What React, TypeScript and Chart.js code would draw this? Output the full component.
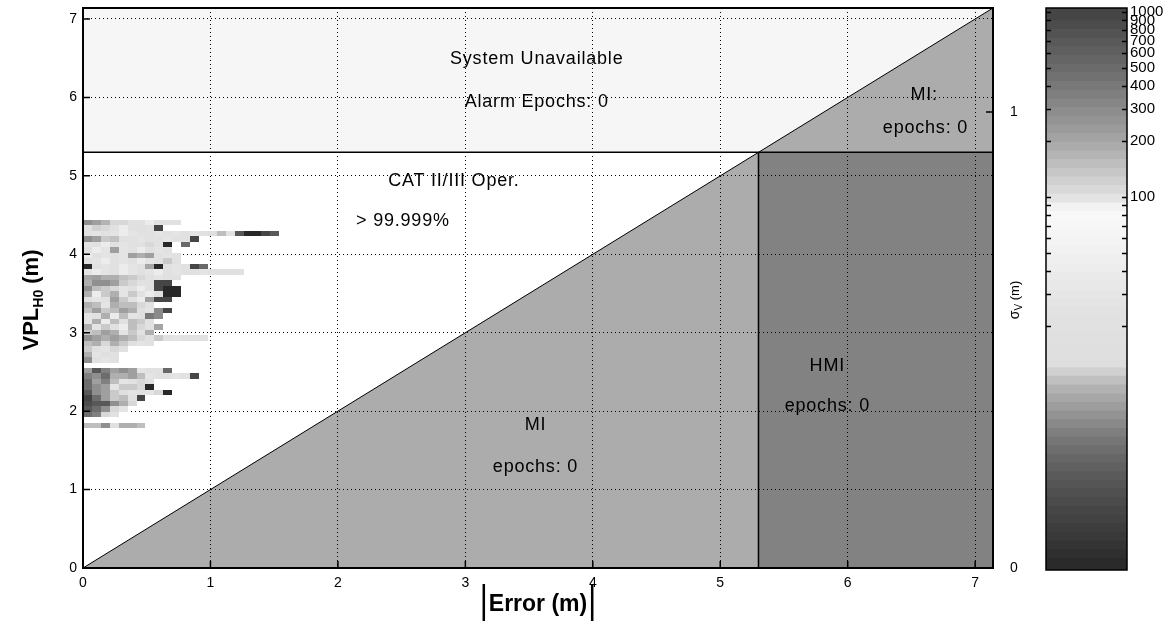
import React, { useEffect, useRef } from 'react';
import { Chart, registerables } from 'chart.js';

Chart.register(...registerables);

// ---------- axis / region values ----------
const AXIS_MAX = 7.14;
const ALERT_LIMIT = 5.3;
const SIGMA_MAX = 1.228;
const xTicks = [0, 1, 2, 3, 4, 5, 6, 7];
const yTicks = [0, 1, 2, 3, 4, 5, 6, 7];
const sigmaTicks = [0, 1];

// ---------- colour bar ----------
const CB_MIN = 0.963;
const CB_MAX = 1051;
const colorbarTicks = [20, 30, 40, 50, 60, 70, 80, 90, 100, 200, 300, 400, 500, 600, 700, 800, 900, 1000];
const colorbarLabels = [100, 200, 300, 400, 500, 600, 700, 800, 900, 1000];
const colorbarBands = 64;
// colormap stops: [count, grey level]
const grayStops: [number, number][] = [
  [1, 40], [1.5, 58], [2.2, 74], [3, 88], [4, 104], [5.4, 128], [6.8, 150], [8, 165],
  [9.5, 182], [11, 204], [12.5, 222], [25, 226], [40, 236], [55, 242], [70, 247],
  [85, 248], [92, 236], [100, 224], [140, 196], [200, 166], [300, 138], [400, 120],
  [500, 106], [700, 88], [1000, 66],
];

// ---------- 2-D histogram (epoch counts) ----------
const heatBinX = 0.07;
const heatBinY = 0.07;
const heatTopY = 4.44;
// one row per VPL bin, from the top (4.44 m) downwards; columns from |error| = 0
const heatCounts: number[][] = [
  [280, 220, 170, 110, 110, 22, 22, 40, 22, 25, 22],
  [22, 120, 110, 22, 40, 22, 18, 22, 2],
  [22, 28, 22, 28, 40, 28, 22, 22, 28, 22, 28, 22, 28, 22, 13, 10, 25, 3, 1, 1, 2, 3],
  [280, 220, 130, 145, 18, 22, 28, 22, 22, 28, 22, 22, 2],
  [28, 22, 40, 22, 28, 22, 22, 110, 22, 1, 0, 4],
  [22, 40, 28, 220, 28, 22, 40, 22, 28, 22],
  [40, 22, 28, 22, 28, 220, 180, 220, 22, 28, 22],
  [22, 28, 40, 22, 28, 22, 40, 28, 22, 130, 22],
  [1, 22, 28, 22, 40, 28, 22, 200, 1, 22, 28, 22, 2, 4],
  [28, 40, 28, 22, 40, 28, 22, 28, 40, 22, 28, 22, 22, 28, 22, 22, 20, 22],
  [200, 220, 180, 180, 145, 130, 110, 22, 28, 22, 22],
  [180, 280, 280, 220, 130, 110, 22, 22, 2, 2],
  [280, 150, 130, 110, 28, 22, 40, 22, 2, 1, 1],
  [180, 40, 130, 180, 28, 130, 22, 40, 22, 1, 1],
  [22, 28, 22, 220, 130, 22, 40, 220, 2, 2],
  [180, 150, 28, 180, 150, 150, 110, 22],
  [145, 220, 130, 150, 220, 180, 18, 28, 6, 2],
  [28, 22, 180, 40, 150, 28, 18, 5, 6],
  [28, 180, 40, 150, 18, 150, 130, 22],
  [180, 28, 130, 18, 40, 150, 110, 22, 8],
  [130, 150, 220, 180, 28, 130, 22, 180],
  [280, 220, 180, 220, 180, 150, 110, 22, 130, 22, 28, 22, 22, 20],
  [150, 180, 110, 180, 130, 18, 28, 22],
  [130, 18, 28, 110, 22],
  [180, 28, 18, 22],
  [280, 22, 28, 22],
  [],
  [220, 700, 350, 220, 280, 220, 28, 22, 22, 4],
  [350, 280, 480, 180, 180, 220, 150, 28, 22, 22, 28, 22, 2],
  [480, 220, 350, 150, 28, 22, 110, 22],
  [480, 280, 220, 28, 130, 130, 110, 1],
  [700, 280, 220, 130, 18, 28, 22, 28, 110, 1],
  [1000, 480, 220, 130, 150, 22, 2],
  [850, 700, 700, 280, 180, 110],
  [700, 480, 280, 110, 28],
  [480, 350, 110, 22],
  [],
  [150, 150, 280, 22, 180, 180, 150],
];

// ---------- region texts ----------
const regionTexts = [
  { text: 'System Unavailable', x: 3.56, y: 6.49 },
  { text: 'Alarm Epochs: 0', x: 3.56, y: 5.94 },
  { text: 'CAT II/III Oper.', x: 2.91, y: 4.93 },
  { text: '> 99.999%', x: 2.51, y: 4.42 },
  { text: 'MI:', x: 6.6, y: 6.03 },
  { text: 'epochs: 0', x: 6.61, y: 5.61 },
  { text: 'HMI', x: 5.84, y: 2.58 },
  { text: 'epochs: 0', x: 5.84, y: 2.07 },
  { text: 'MI', x: 3.55, y: 1.82 },
  { text: 'epochs: 0', x: 3.55, y: 1.29 },
];

const FONT = 'Liberation Sans, Arial, sans-serif';

function countToGray(c: number): string {
  const l = Math.log10(Math.max(c, grayStops[0][0]));
  let g = grayStops[grayStops.length - 1][1];
  for (let i = 0; i < grayStops.length - 1; i++) {
    const l0 = Math.log10(grayStops[i][0]);
    const l1 = Math.log10(grayStops[i + 1][0]);
    if (l <= l1) {
      const t = Math.max(0, (l - l0) / (l1 - l0));
      g = grayStops[i][1] + (grayStops[i + 1][1] - grayStops[i][1]) * t;
      break;
    }
  }
  const v = Math.round(g);
  return `rgb(${v},${v},${v})`;
}

function drawParts(ctx: CanvasRenderingContext2D, parts: { t: string; font: string; dy: number }[]) {
  let total = 0;
  const widths = parts.map((p) => {
    ctx.font = p.font;
    const w = ctx.measureText(p.t).width;
    total += w;
    return w;
  });
  let x = -total / 2;
  parts.forEach((p, i) => {
    ctx.font = p.font;
    ctx.fillText(p.t, x, p.dy);
    x += widths[i];
  });
}

const noPad = (s: any) => {
  s.paddingTop = 0;
  s.paddingBottom = 0;
  s.paddingLeft = 0;
  s.paddingRight = 0;
};

const regionsPlugin = {
  id: 'regions',
  beforeDraw(chart: any) {
    const { ctx, scales } = chart;
    const X = (v: number) => scales.x.getPixelForValue(v);
    const Y = (v: number) => scales.y.getPixelForValue(v);
    const poly = (pts: number[][], color: string) => {
      ctx.beginPath();
      pts.forEach((p, i) => (i ? ctx.lineTo(X(p[0]), Y(p[1])) : ctx.moveTo(X(p[0]), Y(p[1]))));
      ctx.closePath();
      ctx.fillStyle = color;
      ctx.fill();
    };
    ctx.save();
    poly([[0, ALERT_LIMIT], [0, AXIS_MAX], [AXIS_MAX, AXIS_MAX], [ALERT_LIMIT, ALERT_LIMIT]], '#f6f6f6');
    poly([[0, 0], [ALERT_LIMIT, 0], [ALERT_LIMIT, ALERT_LIMIT]], '#acacac');
    poly([[ALERT_LIMIT, ALERT_LIMIT], [AXIS_MAX, AXIS_MAX], [AXIS_MAX, ALERT_LIMIT]], '#acacac');
    poly([[ALERT_LIMIT, 0], [AXIS_MAX, 0], [AXIS_MAX, ALERT_LIMIT], [ALERT_LIMIT, ALERT_LIMIT]], '#828282');
    ctx.restore();
  },
};

const heatPlugin = {
  id: 'heat',
  beforeDatasetsDraw(chart: any) {
    const { ctx, scales, chartArea } = chart;
    ctx.save();
    ctx.beginPath();
    ctx.rect(chartArea.left, chartArea.top, chartArea.right - chartArea.left, chartArea.bottom - chartArea.top);
    ctx.clip();
    heatCounts.forEach((row, k) => {
      const yHi = heatTopY - k * heatBinY;
      const yLo = yHi - heatBinY;
      row.forEach((c, j) => {
        if (!c) return;
        const x0 = Math.round(scales.x.getPixelForValue(j * heatBinX));
        const x1 = Math.round(scales.x.getPixelForValue((j + 1) * heatBinX));
        const y0 = Math.round(scales.y.getPixelForValue(yHi));
        const y1 = Math.round(scales.y.getPixelForValue(yLo));
        ctx.fillStyle = countToGray(c);
        ctx.fillRect(x0, y0, x1 - x0, y1 - y0);
      });
    });
    ctx.restore();
  },
};

const decorPlugin = {
  id: 'decor',
  afterDraw(chart: any) {
    const { ctx, scales, chartArea: a } = chart;
    ctx.save();
    // region texts
    ctx.fillStyle = '#000';
    ctx.font = `18px ${FONT}`;
    (ctx as any).letterSpacing = '0.8px';
    ctx.textAlign = 'center';
    ctx.textBaseline = 'middle';
    regionTexts.forEach((r) => {
      ctx.fillText(r.text, scales.x.getPixelForValue(r.x), scales.y.getPixelForValue(r.y));
    });
    (ctx as any).letterSpacing = '0px';

    // frame
    ctx.strokeStyle = '#000';
    ctx.lineWidth = 2;
    ctx.strokeRect(a.left, a.top, a.right - a.left, a.bottom - a.top);

    // inward tick marks
    ctx.lineWidth = 1.5;
    ctx.beginPath();
    yTicks.forEach((v) => {
      const p = scales.y.getPixelForValue(v);
      ctx.moveTo(a.left, p);
      ctx.lineTo(a.left + 7, p);
    });
    xTicks.forEach((v) => {
      const p = scales.x.getPixelForValue(v);
      ctx.moveTo(p, a.bottom);
      ctx.lineTo(p, a.bottom - 7);
    });
    sigmaTicks.forEach((v) => {
      const p = scales.sig.getPixelForValue(v);
      ctx.moveTo(a.right, p);
      ctx.lineTo(a.right - 7, p);
    });
    ctx.stroke();

    // y title (rotated)
    ctx.textAlign = 'left';
    ctx.textBaseline = 'alphabetic';
    ctx.save();
    ctx.translate(30, 300);
    ctx.rotate(-Math.PI / 2);
    drawParts(ctx, [
      { t: 'VPL', font: `bold 22px ${FONT}`, dy: 8 },
      { t: 'H0', font: `bold 14px ${FONT}`, dy: 13 },
      { t: ' (m)', font: `bold 22px ${FONT}`, dy: 8 },
    ]);
    ctx.restore();

    // sigma title (rotated)
    ctx.save();
    ctx.translate(1014, 300);
    ctx.rotate(-Math.PI / 2);
    drawParts(ctx, [
      { t: 'σ', font: `14px ${FONT}`, dy: 5 },
      { t: 'V', font: `10px ${FONT}`, dy: 8 },
      { t: ' (m)', font: `13px ${FONT}`, dy: 5 },
    ]);
    ctx.restore();

    // x title |Error (m)|
    const cx = (a.left + a.right) / 2;
    ctx.save();
    ctx.translate(cx, 611);
    ctx.font = `bold 23px ${FONT}`;
    const w = ctx.measureText('Error (m)').width;
    drawParts(ctx, [{ t: 'Error (m)', font: `bold 23px ${FONT}`, dy: 0 }]);
    ctx.lineWidth = 2.5;
    ctx.beginPath();
    ctx.moveTo(-w / 2 - 5, -27);
    ctx.lineTo(-w / 2 - 5, 10);
    ctx.moveTo(w / 2 + 5, -27);
    ctx.lineTo(w / 2 + 5, 10);
    ctx.stroke();
    ctx.restore();

    ctx.restore();
  },
};

const colorbarPlugin = {
  id: 'cbframe',
  afterDraw(chart: any) {
    const { ctx, scales, chartArea: a } = chart;
    ctx.save();
    ctx.strokeStyle = '#000';
    ctx.lineWidth = 1.5;
    ctx.beginPath();
    colorbarTicks.forEach((v) => {
      const p = Math.round(scales.y.getPixelForValue(v)) + 0.5;
      ctx.moveTo(a.left, p);
      ctx.lineTo(a.left + 5, p);
      ctx.moveTo(a.right, p);
      ctx.lineTo(a.right - 5, p);
    });
    ctx.stroke();
    ctx.lineWidth = 1.5;
    ctx.strokeRect(a.left, a.top, a.right - a.left, a.bottom - a.top);
    ctx.restore();
  },
};

export default function App() {
  const mainRef = useRef<HTMLCanvasElement>(null);
  const cbRef = useRef<HTMLCanvasElement>(null);

  useEffect(() => {
    const tickFont = { family: FONT, size: 14 };
    const lineDs = (pts: { x: number; y: number }[], width: number) => ({
      data: pts,
      showLine: true,
      borderColor: '#000',
      borderWidth: width,
      pointRadius: 0,
      fill: false,
    });

    const mainChart = new Chart(mainRef.current as HTMLCanvasElement, {
      type: 'scatter',
      data: {
        datasets: [
          lineDs([{ x: 0, y: 0 }, { x: AXIS_MAX, y: AXIS_MAX }], 1),
          lineDs([{ x: 0, y: ALERT_LIMIT }, { x: AXIS_MAX, y: ALERT_LIMIT }], 1.5),
          lineDs([{ x: ALERT_LIMIT, y: 0 }, { x: ALERT_LIMIT, y: ALERT_LIMIT }], 1.5),
        ],
      },
      options: {
        responsive: false,
        animation: false,
        devicePixelRatio: 1,
        events: [],
        layout: { padding: { top: 8, left: 0, right: 0, bottom: 0 } },
        plugins: { legend: { display: false }, tooltip: { enabled: false } },
        scales: {
          x: {
            type: 'linear',
            position: 'bottom',
            min: 0,
            max: AXIS_MAX,
            afterBuildTicks: (s: any) => { s.ticks = xTicks.map((v) => ({ value: v })); },
            afterFit: (s: any) => { s.height = 55; noPad(s); },
            grid: { color: '#000', lineWidth: 1, drawTicks: false },
            border: { display: false, dash: [1, 3] },
            ticks: { color: '#000', font: tickFont, padding: 7, maxRotation: 0, autoSkip: false, callback: (v: any) => String(v) },
          },
          y: {
            type: 'linear',
            position: 'left',
            min: 0,
            max: AXIS_MAX,
            afterBuildTicks: (s: any) => { s.ticks = yTicks.map((v) => ({ value: v })); },
            afterFit: (s: any) => { s.width = 83; noPad(s); },
            grid: { color: '#000', lineWidth: 1, drawTicks: false },
            border: { display: false, dash: [1, 3] },
            ticks: { color: '#000', font: tickFont, padding: 6, autoSkip: false, callback: (v: any) => String(v) },
          },
          sig: {
            type: 'linear',
            position: 'right',
            min: 0,
            max: SIGMA_MAX,
            afterBuildTicks: (s: any) => { s.ticks = sigmaTicks.map((v) => ({ value: v })); },
            afterFit: (s: any) => { s.width = 177; noPad(s); },
            grid: { display: false, drawTicks: false },
            border: { display: false },
            ticks: { color: '#000', font: tickFont, padding: 17, autoSkip: false, callback: (v: any) => String(v) },
          },
        },
      } as any,
      plugins: [regionsPlugin, heatPlugin, decorPlugin],
    });

    const bands: { lo: number; hi: number; color: string }[] = [];
    for (let i = 0; i < colorbarBands; i++) {
      const lo = i === 0 ? CB_MIN : Math.pow(10, (3 * i) / colorbarBands);
      const hi = i === colorbarBands - 1 ? CB_MAX : Math.pow(10, (3 * (i + 1)) / colorbarBands);
      bands.push({ lo, hi, color: countToGray(Math.pow(10, (3 * (i + 0.5)) / colorbarBands)) });
    }

    const cbChart = new Chart(cbRef.current as HTMLCanvasElement, {
      type: 'bar',
      data: {
        labels: [''],
        datasets: bands.map((b) => ({
          data: [[b.lo, b.hi]],
          backgroundColor: b.color,
          borderWidth: 0,
          grouped: false,
          barPercentage: 1,
          categoryPercentage: 1,
        })),
      } as any,
      options: {
        responsive: false,
        animation: false,
        devicePixelRatio: 1,
        events: [],
        layout: { padding: { left: 6, top: 8, bottom: 53, right: 0 } },
        plugins: { legend: { display: false }, tooltip: { enabled: false } },
        scales: {
          x: { display: false },
          y: {
            type: 'logarithmic',
            position: 'right',
            min: CB_MIN,
            max: CB_MAX,
            bounds: 'data',
            afterBuildTicks: (s: any) => { s.ticks = colorbarTicks.map((v) => ({ value: v })); },
            afterFit: (s: any) => { s.width = 43; noPad(s); },
            grid: { display: false, drawTicks: false },
            border: { display: false },
            ticks: {
              autoSkip: false,
              padding: 3,
              color: '#000',
              font: { family: FONT, size: 15 },
              callback: (v: any) => (colorbarLabels.includes(Number(v)) ? String(v) : ''),
            },
          },
        },
      } as any,
      plugins: [colorbarPlugin],
    });

    return () => {
      mainChart.destroy();
      cbChart.destroy();
    };
  }, []);

  return (
    <div style={{ position: 'absolute', left: 0, top: 0, width: 1170, height: 623, background: '#fff' }}>
      <canvas ref={mainRef} width={1170} height={623} style={{ position: 'absolute', left: 0, top: 0 }} />
      <canvas ref={cbRef} width={130} height={623} style={{ position: 'absolute', left: 1040, top: 0 }} />
    </div>
  );
}
